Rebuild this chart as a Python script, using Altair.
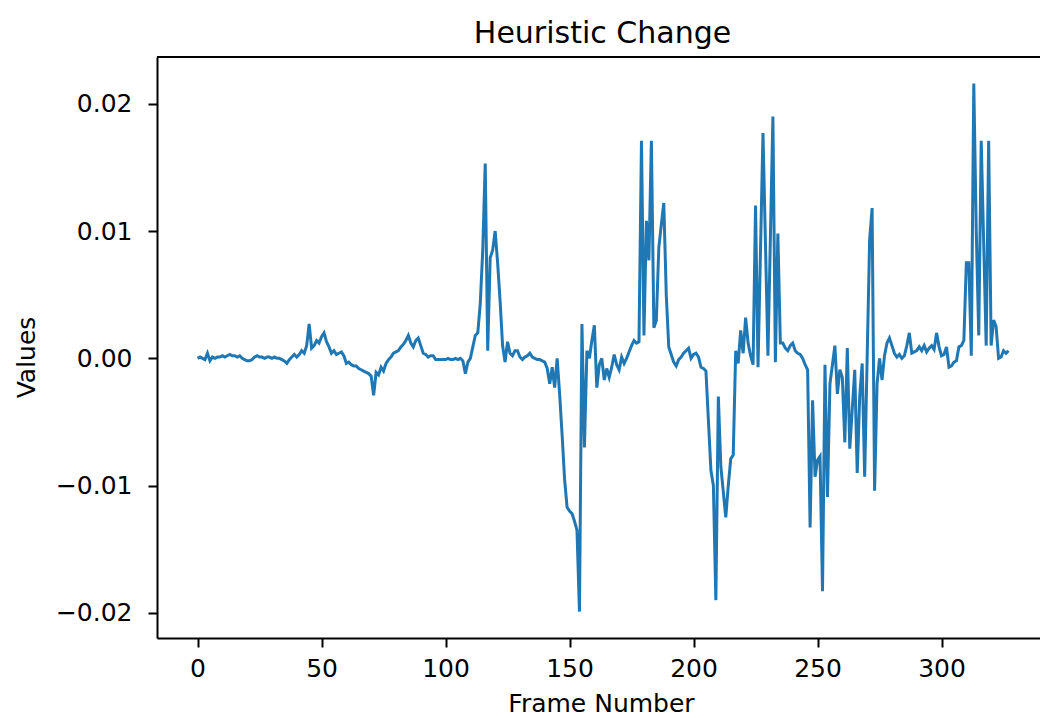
import altair as alt
import pandas as pd

title_text = "Heuristic Change"
x_title = "Frame Number"
y_title = "Values"
x_ticks = [0, 50, 100, 150, 200, 250, 300]
y_ticks = [-0.02, -0.01, 0.0, 0.01, 0.02]

values = [
    0.0000, 0.0001, 0.0000, -0.0001, 0.0004, -0.0002, 0.0001, 0.0000, 0.0001, 0.0001,
    0.0002, 0.0001, 0.0002, 0.0003, 0.0002, 0.0002, 0.0001, 0.0002, 0.0000, -0.0001,
    -0.0002, -0.0002, -0.0001, 0.0001, 0.0002, 0.0001, 0.0001, 0.0000, 0.0001, 0.0001,
    0.0000, 0.0001, 0.0000, 0.0000, -0.0001, -0.0002, -0.0004, -0.0001, 0.0001, 0.0003,
    0.0001, 0.0003, 0.0006, 0.0004, 0.0010, 0.0027, 0.0008, 0.0010, 0.0014, 0.0012,
    0.0017, 0.0020, 0.0013, 0.0009, 0.0004, 0.0006, 0.0003, 0.0004, 0.0005, 0.0002,
    -0.0004, -0.0003, -0.0005, -0.0006, -0.0006, -0.0008, -0.0009, -0.0010, -0.0011, -0.0012,
    -0.0014, -0.0029, -0.0011, -0.0013, -0.0007, -0.0010, -0.0004, -0.0001, 0.0001, 0.0004,
    0.0005, 0.0006, 0.0009, 0.0011, 0.0014, 0.0018, 0.0012, 0.0009, 0.0014, 0.0016,
    0.0010, 0.0004, 0.0003, 0.0001, 0.0002, 0.0002, -0.0001, -0.0001, -0.0001, -0.0001,
    -0.0001, 0.0000, -0.0001, -0.0001, 0.0000, -0.0001, 0.0000, -0.0002, -0.0012, -0.0003,
    0.0000, 0.0009, 0.0018, 0.0020, 0.0043, 0.0085, 0.0153, 0.0006, 0.0079, 0.0085,
    0.0100, 0.0075, 0.0045, 0.0010, -0.0003, 0.0013, 0.0004, 0.0002, 0.0006, 0.0006,
    0.0001, -0.0001, 0.0001, 0.0002, 0.0004, 0.0001, 0.0000, -0.0001, -0.0001, -0.0002,
    -0.0003, -0.0008, -0.0020, -0.0007, -0.0023, 0.0000, -0.0028, -0.0060, -0.0095, -0.0117,
    -0.0120, -0.0122, -0.0128, -0.0135, -0.0199, 0.0027, -0.0070, 0.0006, 0.0000, 0.0014,
    0.0026, -0.0023, -0.0005, 0.0000, -0.0017, -0.0008, -0.0015, -0.0007, 0.0003, -0.0005,
    -0.0009, 0.0001, -0.0004, 0.0000, 0.0005, 0.0010, 0.0014, 0.0012, 0.0013, 0.0171,
    0.0018, 0.0108, 0.0077, 0.0171, 0.0024, 0.0030, 0.0087, 0.0105, 0.0122, 0.0050,
    0.0009, 0.0003, -0.0003, -0.0006, -0.0001, 0.0001, 0.0004, 0.0006, 0.0008, 0.0000,
    0.0003, 0.0004, 0.0001, -0.0007, -0.0008, -0.0010, -0.0049, -0.0088, -0.0100, -0.0190,
    -0.0030, -0.0085, -0.0105, -0.0125, -0.0100, -0.0079, -0.0076, 0.0006, -0.0004, 0.0022,
    0.0004, 0.0032, 0.0012, 0.0002, -0.0005, 0.0120, -0.0007, 0.0085, 0.0177, 0.0090,
    0.0002, 0.0096, 0.0190, -0.0003, 0.0098, 0.0012, 0.0012, 0.0008, 0.0006, 0.0010,
    0.0012, 0.0006, 0.0004, 0.0003, 0.0000, -0.0005, -0.0009, -0.0133, -0.0033, -0.0093,
    -0.0080, -0.0077, -0.0183, -0.0005, -0.0109, -0.0020, -0.0005, 0.0010, -0.0028, -0.0009,
    -0.0015, -0.0066, 0.0008, -0.0071, -0.0040, -0.0009, -0.0090, -0.0030, -0.0004, -0.0093,
    0.0000, 0.0093, 0.0118, -0.0104, -0.0020, 0.0000, -0.0017, 0.0002, 0.0012, 0.0016,
    0.0010, 0.0004, 0.0001, 0.0003, 0.0000, 0.0002, 0.0010, 0.0020, 0.0004, 0.0005,
    0.0006, 0.0009, 0.0006, 0.0010, 0.0005, 0.0008, 0.0010, 0.0007, 0.0020, 0.0009,
    0.0002, 0.0003, 0.0009, -0.0007, -0.0006, -0.0003, -0.0002, 0.0009, 0.0010, 0.0014,
    0.0075, 0.0075, 0.0002, 0.0216, 0.0100, 0.0018, 0.0171, 0.0090, 0.0010, 0.0171,
    0.0010, 0.0030, 0.0025, 0.0000, 0.0001, 0.0006, 0.0004, 0.0006,
]
frames = list(range(len(values)))

df = pd.DataFrame({"frame": frames, "value": values})

W, H = 883, 581
FONT = "DejaVu Sans"

line = alt.Chart(df).mark_line(color="#1f77b4", strokeWidth=3, clip=True).encode(
    x=alt.X(
        "frame:Q",
        scale=alt.Scale(domain=[-16.35, 339.7], nice=False, zero=False),
        axis=alt.Axis(
            values=x_ticks, format="d", title=x_title, grid=False,
            titleX=444, titleY=73, titleBaseline="alphabetic", titleAlign="center",
            labelPadding=9,
        ),
    ),
    y=alt.Y(
        "value:Q",
        scale=alt.Scale(domain=[-0.021975, 0.023675], nice=False, zero=False),
        axis=alt.Axis(
            values=y_ticks, title=y_title, grid=False,
            labelExpr="replace(format(datum.value, '.2f'), '-', '\u2212')",
            titleX=-123, titleY=300, titleBaseline="alphabetic", titleAlign="center",
            titleAngle=270, labelPadding=16,
        ),
    ),
)

top_border = alt.Chart(pd.DataFrame({"k": [0]})).mark_rule(color="black", strokeWidth=2).encode(
    x=alt.value(0), x2=alt.value(W), y=alt.value(0)
)

chart = (
    alt.layer(line, top_border)
    .properties(
        width=W,
        height=H,
        title=alt.TitleParams(
            text=title_text, font=FONT, fontSize=30, fontWeight="normal",
            color="black", anchor="middle", offset=16, baseline="alphabetic", dx=4, dy=33,
        ),
        autosize=alt.AutoSizeParams(type="none"),
        padding={"left": 157, "top": 57, "right": 0, "bottom": 80},
        background="white",
    )
    .configure_view(stroke=None)
    .configure_axis(
        domainColor="black", domainWidth=2, tickColor="black", tickWidth=2, tickSize=9,
        labelFont=FONT, labelFontSize=25, labelColor="black",
        titleFont=FONT, titleFontSize=25, titleFontWeight="normal", titleColor="black",
    )
)

chart.save("out.html", embed_options={"renderer": "svg", "actions": False})
